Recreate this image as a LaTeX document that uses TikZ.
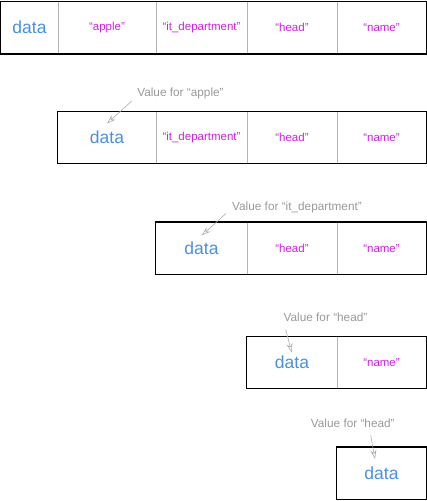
\documentclass[tikz,border=0pt]{standalone}
\usepackage{fontspec}
\setmainfont{Liberation Sans}
\usetikzlibrary{arrows.meta}
\definecolor{datablue}{HTML}{4A90E2}
\definecolor{keymag}{HTML}{CC22DD}
\definecolor{notegray}{HTML}{999999}
\definecolor{divgray}{HTML}{B4B4B4}
\begin{document}
\begin{tikzpicture}[x=1pt,y=-1pt,
  cell/.style={inner sep=0pt, minimum height=52pt},
  datatext/.style={cell, text=datablue, font=\fontsize{17.5}{20}\selectfont},
  keytext/.style={cell, text=keymag, font=\fontsize{11.5}{14}\selectfont},
  note/.style={inner sep=0pt, text=notegray, font=\fontsize{11.8}{14}\selectfont},
  outer/.style={draw=black, line width=1.3pt},
  divider/.style={draw=divgray, line width=1.1pt},
  pointer/.style={draw=notegray!80, line width=0.6pt, -{Stealth[open, length=9pt, width=6pt]}}]
\useasboundingbox (0,0) rectangle (427,501);

% column edges: 1, 58, 156, 247, 337, 426
% ---- row 1 ----
\node[datatext, minimum width=57pt] (a1) at (29.5,27.7) {data};
\node[keytext, minimum width=98pt] (a2) at (107,27.7) {“apple”};
\node[keytext, minimum width=91pt] (a3) at (201.5,27.7) {“it\_department”};
\node[keytext, minimum width=90pt] (a4) at (292,27.7) {“head”};
\node[keytext, minimum width=89pt] (a5) at (381.5,27.7) {“name”};
\foreach \c in {a1,a2,a3,a4} \draw[divider] (\c.north east) -- (\c.south east);
\draw[outer] (a1.north west) rectangle (a5.south east);

% ---- row 2 ----
\node[note] (n2) at (180.5,93) {Value for “apple”};
\node[datatext, minimum width=98pt] (b1) at (107,137.5) {data};
\node[keytext, minimum width=91pt] (b2) at (201.5,137.5) {“it\_department”};
\node[keytext, minimum width=90pt] (b3) at (292,137.5) {“head”};
\node[keytext, minimum width=89pt] (b4) at (381.5,137.5) {“name”};
\foreach \c in {b1,b2,b3} \draw[divider] (\c.north east) -- (\c.south east);
\draw[outer] (b1.north west) rectangle (b4.south east);
\coordinate (p2s) at (131.7,101);
\coordinate (p2e) at (107,123.5);
\draw[pointer] (p2s) -- (p2e);

% ---- row 3 ----
\node[note] (n3) at (297,207) {Value for “it\_department”};
\node[datatext, minimum width=91pt] (c1) at (201.5,248.3) {data};
\node[keytext, minimum width=90pt] (c2) at (292,248.3) {“head”};
\node[keytext, minimum width=89pt] (c3) at (381.5,248.3) {“name”};
\foreach \c in {c1,c2} \draw[divider] (\c.north east) -- (\c.south east);
\draw[outer] (c1.north west) rectangle (c3.south east);
\coordinate (p3s) at (226,213.5);
\coordinate (p3e) at (201.7,235.5);
\draw[pointer] (p3s) -- (p3e);

% ---- row 4 ----
\node[note] (n4) at (325.5,317.5) {Value for “head”};
\node[datatext, minimum width=90pt] (d1) at (292,362.5) {data};
\node[keytext, minimum width=89pt] (d2) at (381.5,362.5) {“name”};
\draw[divider] (d1.north east) -- (d1.south east);
\draw[outer] (d1.north west) rectangle (d2.south east);
\coordinate (p4s) at (285.7,329.5);
\coordinate (p4e) at (291.7,352.5);
\draw[pointer] (p4s) -- (p4e);

% ---- row 5 ----
\node[note] (n5) at (352.8,423.5) {Value for “head”};
\node[datatext, minimum width=89pt] (e1) at (381.5,473.3) {data};
\draw[outer] (e1.north west) rectangle (e1.south east);
\coordinate (p5s) at (370.7,435.5);
\coordinate (p5e) at (375,459);
\draw[pointer] (p5s) -- (p5e);
\end{tikzpicture}
\end{document}
